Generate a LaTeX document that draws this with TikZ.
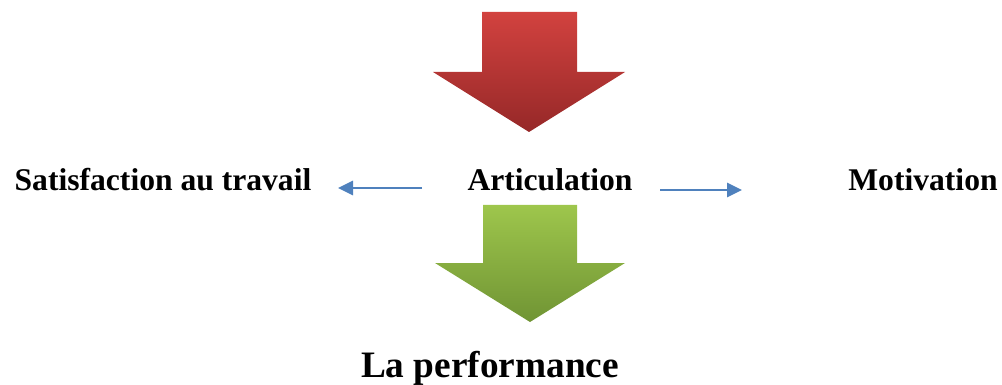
\documentclass[tikz,border=0pt]{standalone}
\usepackage{fontspec}
\setmainfont{Liberation Serif}
\usetikzlibrary{arrows.meta}
\begin{document}
\begin{tikzpicture}[x=1pt,y=-1pt,
  label/.style={font=\bfseries\fontsize{31.6}{36}\selectfont, anchor=base, inner sep=0pt},
  bigarrow/.style={draw=none},
  link/.style={draw={rgb,255:red,79;green,129;blue,189}, line width=2.8pt,
    -{Triangle[length=15pt,width=14pt]}}
]
\useasboundingbox (0,0) rectangle (1002,385);

% red block arrow pointing down
\shade[bigarrow, top color={rgb,255:red,210;green,66;blue,63}, bottom color={rgb,255:red,150;green,40;blue,40}]
  (482,12) -- (577,12) -- (577,72) -- (625,72) -- (529,132) -- (433,72) -- (482,72) -- cycle;

% green block arrow pointing down
\shade[bigarrow, top color={rgb,255:red,158;green,198;blue,76}, bottom color={rgb,255:red,112;green,148;blue,52}]
  (483,205) -- (577,205) -- (577,263) -- (625,263) -- (530,322) -- (435,263) -- (483,263) -- cycle;

% labels
\node[label] (sat) at (163,190) {Satisfaction au travail};
\node[label] (art) at (550,191) {Articulation};
\node[label] (mot) at (923,190) {Motivation};
\node[label, font=\bfseries\fontsize{37.3}{42}\selectfont] (perf) at (490,377) {La performance};

% connectors
\coordinate (lstart) at (422,188);
\coordinate (lend) at (338,188);
\coordinate (rstart) at (660,190);
\coordinate (rend) at (742,190);
\draw[link] (lstart) -- (lend);
\draw[link] (rstart) -- (rend);
\end{tikzpicture}
\end{document}
